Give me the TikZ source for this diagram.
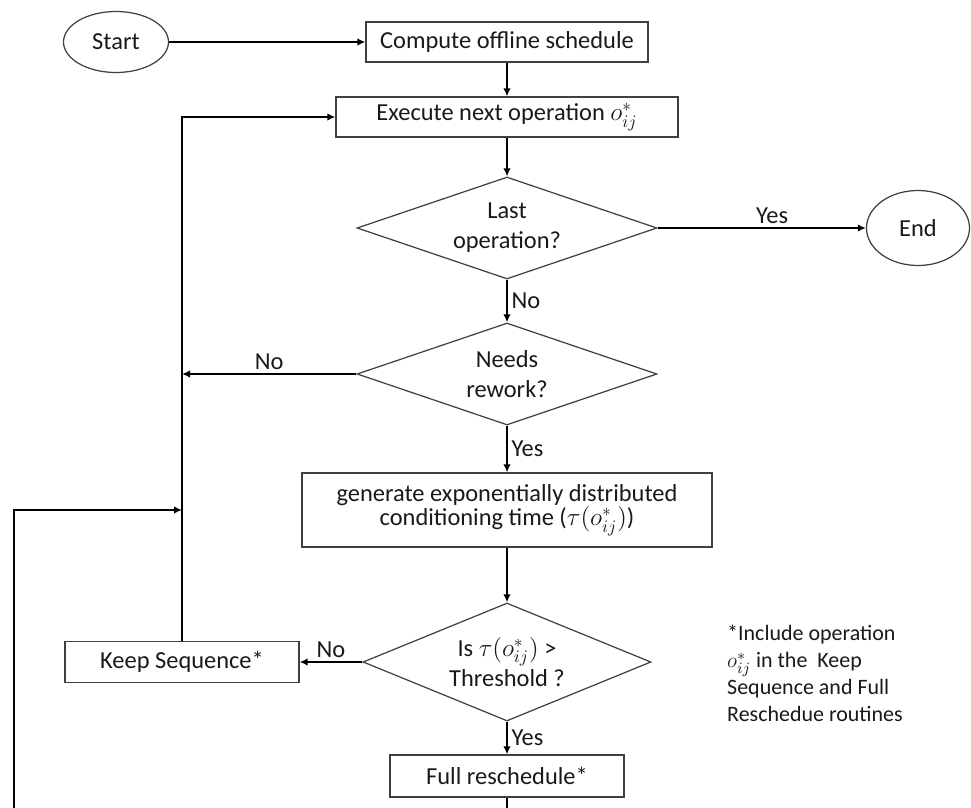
\documentclass[tikz,border=0pt]{standalone}
\usepackage{fontspec}
\setmainfont{Carlito}
\usetikzlibrary{positioning, shapes.geometric, arrows.meta}

\begin{document}
\begin{tikzpicture}[
        terminal/.style={ellipse, draw=black!75, line width=0.7pt, inner sep=0pt, minimum width=2.1cm, minimum height=1.22cm, text=black!90, font=\fontsize{13.9}{17}\selectfont},
        stepbox/.style={rectangle, draw=black!75, line width=0.7pt, inner sep=0pt, align=center, minimum height=0.8cm, text=black!90, font=\fontsize{13.9}{17}\selectfont},
        decision/.style={diamond, draw=black!75, line width=0.7pt, inner sep=0pt, align=center, minimum width=6cm, minimum height=2.04cm, aspect=2.9, text=black!90, font=\fontsize{13.9}{17}\selectfont},
        lbl/.style={inner sep=2pt, text=black!90, font=\fontsize{13.9}{17}\selectfont},
        arrow/.style={->, >={Latex[length=1.6mm, width=1.5mm]}, line width=1.2pt}
    ]
    \useasboundingbox (0,0) rectangle (19.42,-16.16);

    % Top: start and offline schedule
    \node[terminal] (start) at (2.32, -0.84) {Start};
    \node[stepbox, minimum width=5.64cm] (offline) at (10.14, -0.84) {Compute offline schedule};
    \node[stepbox, minimum width=6.84cm] (exec) at (10.14, -2.34) {Execute next operation $o^*_{ij}$};

    % Decisions
    \node[decision] (last) at (10.14, -4.56) {Last\\operation?};
    \node[terminal, minimum width=2.06cm, minimum height=1.5cm] (end) at (18.36, -4.56) {End};
    \node[decision] (rework) at (10.14, -7.48) {Needs\\rework?};

    % Conditioning time
    \node[stepbox, minimum width=8.2cm, minimum height=1.48cm] (gen) at (10.14, -10.2) {generate exponentially distributed\\[-3pt]conditioning time ($\tau(o^*_{ij})$)};
    \node[decision, minimum width=5.76cm, minimum height=2.36cm, aspect=2.44] (thresh) at (10.14, -13.24) {Is $\tau(o^*_{ij})$ >\\Threshold ?};

    % Routines
    \node[stepbox, minimum width=4.68cm, minimum height=0.82cm] (keep) at (3.64, -13.24) {Keep Sequence*};
    \node[stepbox, minimum width=4.68cm, minimum height=0.84cm] (full) at (10.14, -15.52) {Full reschedule*};

    % Note
    \node[anchor=west, align=left, text=black!90, font=\fontsize{12.5}{15.4}\selectfont] (note) at (14.42, -13.47) {*Include operation\\$o^*_{ij}$ in the\ \ Keep\\Sequence and Full\\Reschedue routines};

    % Main flow
    \draw[arrow] (start) -- (offline);
    \draw[arrow] (offline) -- (exec);
    \draw[arrow] (exec) -- (last);
    \draw[arrow] (last) -- node[lbl, above, pos=0.55] {Yes} (end);
    \draw[arrow] (last) -- node[lbl, right] {No} (rework);
    \draw[arrow] (rework) -- node[lbl, right] {Yes} (gen);
    \draw[arrow] (gen) -- (thresh);
    \draw[arrow] (thresh) -- node[lbl, above] {No} (keep);
    \draw[arrow] (thresh) -- node[lbl, right] {Yes} (full);

    % Loops back to execute
    \coordinate (nojoin) at (rework -| keep);
    \coordinate (fulljoin) at (keep |- gen);
    \coordinate (back) at (0.28, -16.7);
    \draw[arrow] (rework) -- node[lbl, above] {No} (nojoin);
    \draw[arrow] (keep) |- (exec);
    \draw[arrow] (full) -- (full |- back) -| (back) |- (fulljoin);

\end{tikzpicture}
\end{document}
